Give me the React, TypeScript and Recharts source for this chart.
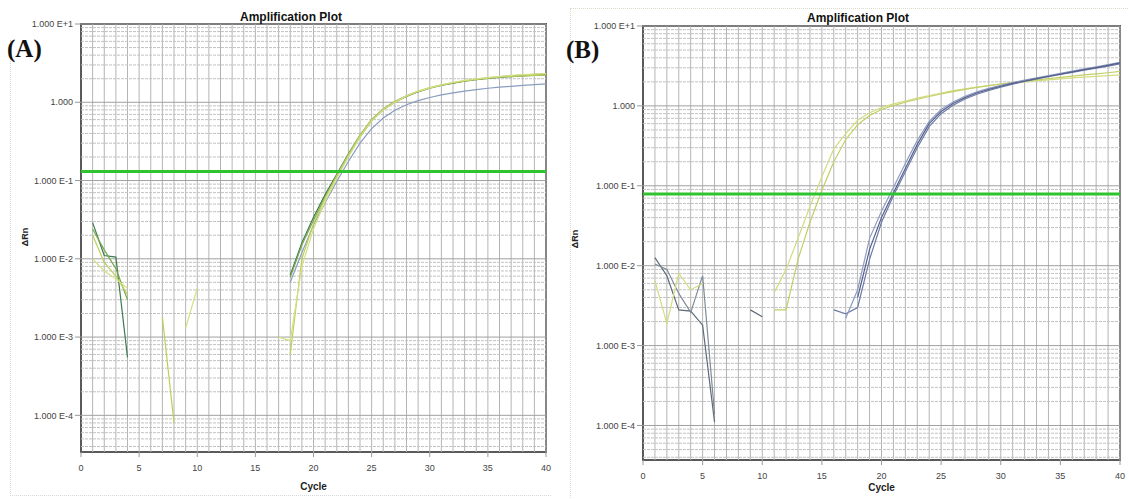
import React from 'react';
import { LineChart, Line, XAxis, YAxis, ReferenceLine, ReferenceArea } from 'recharts';

const n = null;

const cycles = [1, 2, 3, 4, 5, 6, 7, 8, 9, 10, 11, 12, 13, 14, 15, 16, 17, 18, 19, 20,
  21, 22, 23, 24, 25, 26, 27, 28, 29, 30, 31, 32, 33, 34, 35, 36, 37, 38, 39, 40];

const xTicks = [0, 5, 10, 15, 20, 25, 30, 35, 40];
const yTicks = [1e-4, 1e-3, 1e-2, 1e-1, 1, 10];

// Panel A series
const aDark = [0.029, 0.011, 0.0105, 0.00055, n, n, n, n, n, n, n, n, n, n, n, n, n,
  0.0062, 0.016, 0.034, 0.066, 0.12, 0.22, 0.38, 0.60, 0.82, 1.02, 1.2, 1.37, 1.52, 1.65, 1.76, 1.86, 1.95, 2.02, 2.08, 2.13, 2.17, 2.21, 2.24];
const aGreen = [0.024, 0.013, 0.0075, 0.003, n, n, n, n, n, n, n, n, n, n, n, n, n,
  0.0058, 0.015, 0.031, 0.062, 0.115, 0.21, 0.36, 0.58, 0.8, 1.0, 1.19, 1.36, 1.51, 1.64, 1.76, 1.87, 1.97, 2.05, 2.12, 2.18, 2.23, 2.27, 2.31];
const aYellow = [0.01, 0.007, 0.0055, 0.0042, n, n, n, n, 0.0013, 0.0042, n, n, n, n, n, n, 0.001, 0.0009,
  0.008, 0.024, 0.054, 0.106, 0.2, 0.36, 0.58, 0.8, 1.0, 1.2, 1.38, 1.53, 1.67, 1.79, 1.9, 1.99, 2.07, 2.14, 2.2, 2.25, 2.29, 2.33];
const aLight = [0.02, 0.009, 0.006, 0.0035, n, n, 0.0018, 0.00008, n, n, n, n, n, n, n, n, n, 0.0006,
  0.01, 0.028, 0.06, 0.115, 0.215, 0.38, 0.6, 0.82, 1.02, 1.21, 1.39, 1.54, 1.67, 1.78, 1.88, 1.96, 2.03, 2.09, 2.14, 2.18, 2.21, 2.24];
const aBlue = [n, n, n, n, n, n, n, n, n, n, n, n, n, n, n, n, n,
  0.005, 0.012, 0.027, 0.052, 0.097, 0.175, 0.3, 0.46, 0.63, 0.79, 0.93, 1.05, 1.15, 1.24, 1.32, 1.39, 1.45, 1.51, 1.56, 1.6, 1.64, 1.68, 1.72];
const aThreshold = 0.13;

// Panel B series
const bGrey1 = [0.0126, 0.0075, 0.0028, 0.0027, 0.0018, 0.00011, n, n, 0.0028, 0.0023, n, n, n, n, n, n, n, n, n, n,
  n, n, n, n, n, n, n, n, n, n, n, n, n, n, n, n, n, n, n, n];
const bGrey2 = [0.0105, 0.009, 0.0045, 0.0026, 0.0075, 0.00014, n, n, n, n, n, n, n, n, n, n, n, n, n, n,
  n, n, n, n, n, n, n, n, n, n, n, n, n, n, n, n, n, n, n, n];
const bYellow1 = [0.0065, 0.0019, 0.008, 0.005, 0.006, n, n, n, n, n,
  0.0046, 0.009, 0.022, 0.055, 0.13, 0.29, 0.45, 0.66, 0.82, 0.95, 1.06, 1.15, 1.25, 1.35, 1.45, 1.55, 1.64, 1.72, 1.8, 1.87,
  1.94, 2.0, 2.06, 2.12, 2.18, 2.24, 2.29, 2.34, 2.39, 2.44];
const bYellow2 = [n, n, n, n, n, n, n, n, n, n,
  0.0028, 0.0028, 0.012, 0.035, 0.088, 0.2, 0.38, 0.58, 0.76, 0.9, 1.01, 1.11, 1.21, 1.31, 1.41, 1.51, 1.61, 1.7, 1.79, 1.88,
  1.96, 2.04, 2.12, 2.2, 2.28, 2.36, 2.44, 2.52, 2.6, 2.7];
const bBlue1 = [n, n, n, n, n, n, n, n, n, n, n, n, n, n, n,
  0.0028, 0.0025, 0.003, 0.012, 0.035, 0.075, 0.15, 0.3, 0.55, 0.8, 1.02, 1.22, 1.4, 1.56, 1.72, 1.87, 2.02, 2.17, 2.32, 2.47, 2.63, 2.8, 2.97, 3.15, 3.35];
const bBlue2 = [n, n, n, n, n, n, n, n, n, n, n, n, n, n, n, n,
  0.0022, 0.005, 0.022, 0.048, 0.095, 0.19, 0.37, 0.64, 0.9, 1.12, 1.32, 1.5, 1.66, 1.81, 1.96, 2.1, 2.25, 2.4, 2.56, 2.72, 2.9, 3.08, 3.28, 3.5];
const bBlue3 = [n, n, n, n, n, n, n, n, n, n, n, n, n, n, n, n, n,
  0.004, 0.016, 0.04, 0.082, 0.165, 0.33, 0.6, 0.85, 1.07, 1.27, 1.45, 1.61, 1.76, 1.91, 2.05, 2.2, 2.35, 2.5, 2.66, 2.84, 3.02, 3.22, 3.45];
const bThreshold = 0.079;

const FONT = '"Liberation Sans", Arial, sans-serif';

type SeriesDef = { key: string; values: (number | null)[]; color: string };

const fmtY = (v: number) => {
  const e = Math.round(Math.log10(v));
  if (e === 0) return '1.000';
  return `1.000 E${e > 0 ? '+' : '-'}${Math.abs(e)}`;
};

function buildRows(series: SeriesDef[]) {
  return cycles.map((c, i) => {
    const row: Record<string, number | null> = { c };
    series.forEach((s) => { row[s.key] = s.values[i]; });
    return row;
  });
}

function minorValues(min: number) {
  const out: number[] = [];
  [1e-5, 1e-4, 1e-3, 1e-2, 1e-1, 1].forEach((d) => {
    for (let k = 2; k <= 9; k++) {
      const v = d * k;
      if (v > min) out.push(v);
    }
  });
  return out;
}

function Panel(props: {
  width: number; height: number; margin: { top: number; right: number; bottom: number; left: number };
  xAxisHeight: number; yMin: number; series: SeriesDef[]; threshold: number; cycleOffset: number;
}) {
  const { width, height, margin, xAxisHeight, yMin, series, threshold, cycleOffset } = props;
  const rows = buildRows(series);
  return (
    <LineChart width={width} height={height} data={rows} margin={margin}>
      {cycles.map((c) => (
        <ReferenceLine key={'v' + c} x={c} stroke="#b4b4b4" strokeWidth={1} />
      ))}
      {minorValues(yMin).map((v) => (
        <ReferenceLine key={'m' + v} y={v} stroke="#c2c2c2" strokeWidth={1} strokeDasharray="3 1" />
      ))}
      {yTicks.map((t) => (
        <ReferenceLine key={'d' + t} y={t} stroke="#a0a0a0" strokeWidth={1} />
      ))}
      <XAxis
        type="number"
        dataKey="c"
        domain={[0, 40]}
        ticks={xTicks}
        height={xAxisHeight}
        tickSize={5}
        tickMargin={8}
        axisLine={false}
        tickLine={{ stroke: '#999' }}
        tick={{ fontSize: 9, fill: '#444', fontFamily: FONT }}
        allowDataOverflow
        label={{ value: 'Cycle', position: 'insideBottom', offset: cycleOffset, style: { fontSize: 10, fontWeight: 'bold', fill: '#222', fontFamily: FONT } }}
      />
      <YAxis
        type="number"
        scale="log"
        domain={[yMin, 10]}
        ticks={yTicks}
        allowDataOverflow
        width={70}
        tickSize={6}
        tickMargin={2}
        axisLine={false}
        tickLine={{ stroke: '#999' }}
        tickFormatter={fmtY}
        tick={{ fontSize: 9, fill: '#444', fontFamily: FONT }}
      />
      {series.map((s) => (
        <Line
          key={s.key}
          type="linear"
          dataKey={s.key}
          stroke={s.color}
          strokeWidth={1.2}
          dot={false}
          isAnimationActive={false}
          connectNulls={false}
        />
      ))}
      <ReferenceLine y={threshold} stroke="#2fc42f" strokeWidth={3} />
      <ReferenceArea x1={0} x2={40} y1={yMin} y2={10} fill="none" stroke="#5a5a5a" strokeWidth={2} ifOverflow="visible" />
    </LineChart>
  );
}

const seriesA: SeriesDef[] = [
  { key: 'aDark', values: aDark, color: '#3f7a50' },
  { key: 'aBlue', values: aBlue, color: '#8a9cc0' },
  { key: 'aGreen', values: aGreen, color: '#78a84c' },
  { key: 'aLight', values: aLight, color: '#bccf5a' },
  { key: 'aYellow', values: aYellow, color: '#d6df84' },
];

const seriesB: SeriesDef[] = [
  { key: 'bGrey1', values: bGrey1, color: '#5e6a78' },
  { key: 'bGrey2', values: bGrey2, color: '#7f8c98' },
  { key: 'bYellow1', values: bYellow1, color: '#d4dc80' },
  { key: 'bYellow2', values: bYellow2, color: '#c2cf66' },
  { key: 'bBlue1', values: bBlue1, color: '#6c7ca8' },
  { key: 'bBlue2', values: bBlue2, color: '#8e9cc2' },
  { key: 'bBlue3', values: bBlue3, color: '#55608a' },
];

const titleStyle: React.CSSProperties = {
  position: 'absolute', fontFamily: FONT, fontWeight: 'bold', fontSize: 12, color: '#111', whiteSpace: 'nowrap', lineHeight: '14px',
};
const panelLabelStyle: React.CSSProperties = {
  position: 'absolute', fontFamily: '"Liberation Serif", "Times New Roman", serif', fontWeight: 'bold', fontSize: 25, color: '#111', lineHeight: '25px',
};
const rnStyle: React.CSSProperties = {
  position: 'absolute', fontFamily: FONT, fontWeight: 'bold', fontSize: 9, color: '#222', transform: 'rotate(-90deg)', transformOrigin: 'center', whiteSpace: 'nowrap', lineHeight: '10px',
};

export default function App() {
  return (
    <div style={{ position: 'absolute', left: 0, top: 0, width: 1129, height: 499, background: '#fff', overflow: 'hidden' }}>
      <div style={{ position: 'absolute', left: 10, top: 40, width: 540, height: 455, borderLeft: '1px dotted #d8d8d8', borderBottom: '1px dotted #d8d8d8' }} />
      <div style={{ position: 'absolute', left: 570, top: 8, width: 559, height: 491, borderLeft: '1px dotted #dcdcc8', borderTop: '1px dotted #dcdcc8' }} />
      <div style={{ position: 'absolute', left: 0, top: 0 }}>
        <Panel
          width={560}
          height={499}
          margin={{ top: 24, right: 14, bottom: 7, left: 11 }}
          xAxisHeight={40}
          yMin={3.4e-5}
          series={seriesA}
          threshold={aThreshold}
          cycleOffset={2}
        />
      </div>
      <div style={{ position: 'absolute', left: 560, top: 0 }}>
        <Panel
          width={569}
          height={499}
          margin={{ top: 26, right: 9, bottom: 5, left: 13 }}
          xAxisHeight={34}
          yMin={3.7e-5}
          series={seriesB}
          threshold={bThreshold}
          cycleOffset={3}
        />
      </div>
      <div style={{ ...titleStyle, left: 240, top: 10 }}>Amplification Plot</div>
      <div style={{ ...titleStyle, left: 807, top: 11 }}>Amplification Plot</div>
      <div style={{ ...panelLabelStyle, left: 7, top: 36 }}>(A)</div>
      <div style={{ ...panelLabelStyle, left: 566, top: 37 }}>(B)</div>
      <div style={{ ...rnStyle, left: 16, top: 232 }}>ΔRn</div>
      <div style={{ ...rnStyle, left: 566, top: 234 }}>ΔRn</div>
    </div>
  );
}
